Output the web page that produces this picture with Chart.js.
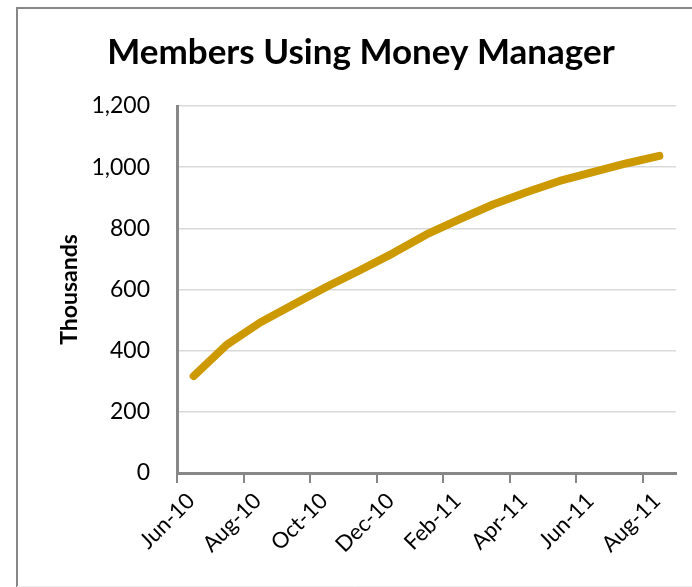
<!DOCTYPE html>
<html>
<head>
<meta charset="utf-8">
<script src="https://cdn.jsdelivr.net/npm/chart.js@4"></script>
<style>
  html, body { margin: 0; padding: 0; background: #fff; }
  #wrap { position: relative; width: 692px; height: 587px; }
</style>
</head>
<body>
<div id="wrap"><canvas id="membersChart"></canvas></div>
<script>
// monthly data, Jun-10 .. Aug-11 (thousands of members)
const months = ['Jun-10', 'Jul-10', 'Aug-10', 'Sep-10', 'Oct-10', 'Nov-10', 'Dec-10', 'Jan-11',
                'Feb-11', 'Mar-11', 'Apr-11', 'May-11', 'Jun-11', 'Jul-11', 'Aug-11'];
const members = [317, 420, 492, 551, 609, 663, 719, 780, 830, 878, 918, 955, 984, 1012, 1037];
const tickLabels = ['Jun-10', 'Aug-10', 'Oct-10', 'Dec-10', 'Feb-11', 'Apr-11', 'Jun-11', 'Aug-11'];
const yTicks = [0, 200, 400, 600, 800, 1000, 1200];
const chartTitle = 'Members Using Money Manager';
const yTitle = 'Thousands';

const FONT = 'Lato, "Open Sans", sans-serif';
const axisGray = '#878787';

// frame + title, drawn on the canvas
const frameAndTitle = {
    id: 'frameAndTitle',
    beforeDraw(chart) {
        const ctx = chart.ctx;
        ctx.save();
        ctx.fillStyle = '#fff';
        ctx.fillRect(0, 0, chart.width, chart.height);
        ctx.strokeStyle = axisGray;
        ctx.lineWidth = 2;
        ctx.beginPath();
        ctx.moveTo(17, 587);
        ctx.lineTo(17, 8);
        ctx.lineTo(692, 8);
        ctx.stroke();
        ctx.strokeStyle = '#eeeeee';
        ctx.lineWidth = 1;
        ctx.beginPath();
        ctx.moveTo(17, 586.5);
        ctx.lineTo(692, 586.5);
        ctx.stroke();
        ctx.fillStyle = '#000';
        ctx.font = 'bold 35px ' + FONT;
        ctx.textAlign = 'center';
        ctx.textBaseline = 'alphabetic';
        ctx.fillText(chartTitle, 361, 64);
        ctx.restore();
    }
};

const ctx = document.getElementById('membersChart').getContext('2d');
new Chart(ctx, {
    type: 'line',
    data: {
        labels: months,
        datasets: [{
            label: 'Members',
            data: members.map((v, i) => ({ x: i + 0.5, y: v })),
            borderColor: '#CC9A00',
            borderWidth: 8,
            borderCapStyle: 'round',
            borderJoinStyle: 'round',
            pointRadius: 0,
            tension: 0,
            fill: false
        }]
    },
    options: {
        responsive: true,
        maintainAspectRatio: false,
        animation: false,
        layout: { padding: { left: 18, top: 106, right: 16, bottom: 0 } },
        plugins: {
            legend: { display: false },
            tooltip: { enabled: false },
            title: { display: false }
        },
        scales: {
            x: {
                type: 'linear',
                min: 0,
                max: months.length,
                afterBuildTicks: scale => {
                    scale.ticks = tickLabels.map((_, i) => ({ value: i * 2 }));
                },
                afterFit: scale => { scale.height = 114; },
                grid: {
                    drawOnChartArea: false,
                    drawTicks: true,
                    tickLength: 10,
                    color: axisGray,
                    lineWidth: 2
                },
                border: { color: axisGray, width: 3 },
                ticks: {
                    autoSkip: false,
                    minRotation: 45,
                    maxRotation: 45,
                    padding: 5,
                    labelOffset: 14,
                    color: '#000',
                    font: { family: FONT, size: 22 },
                    callback: value => tickLabels[value / 2]
                }
            },
            y: {
                min: 0,
                max: 1200,
                afterBuildTicks: scale => {
                    scale.ticks = yTicks.map(v => ({ value: v }));
                },
                afterFit: scale => { scale.width = 159; },
                grid: {
                    drawTicks: false,
                    color: '#d9d9d9',
                    lineWidth: 1.5
                },
                border: { color: axisGray, width: 3 },
                ticks: {
                    padding: 27,
                    color: '#000',
                    font: { family: FONT, size: 23 },
                    callback: value => value.toLocaleString('en-US')
                },
                title: {
                    display: true,
                    text: yTitle,
                    color: '#000',
                    font: { family: FONT, size: 23, weight: 'bold' },
                    padding: { top: 38, bottom: 0 }
                }
            }
        }
    },
    plugins: [frameAndTitle]
});
</script>
</body>
</html>
